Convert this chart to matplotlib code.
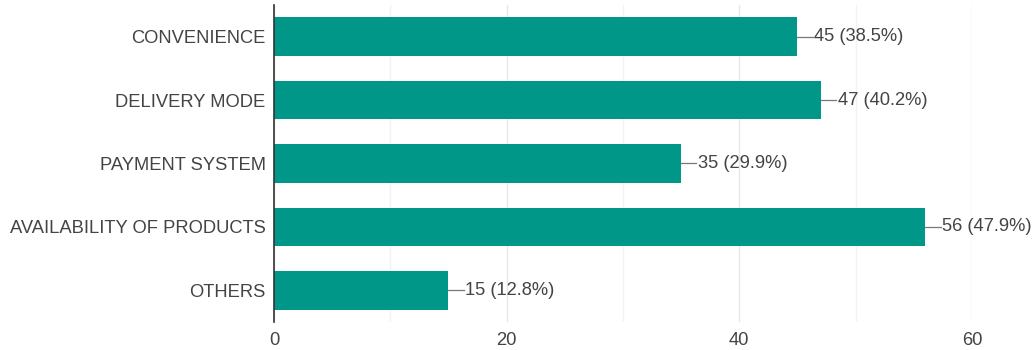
import matplotlib.pyplot as plt
from matplotlib.ticker import MultipleLocator

plt.rcParams['font.family'] = ['Liberation Sans', 'DejaVu Sans']

categories = ['CONVENIENCE', 'DELIVERY MODE', 'PAYMENT SYSTEM',
              'AVAILABILITY OF PRODUCTS', 'OTHERS']
counts = [45, 47, 35, 56, 15]
percents = [38.5, 40.2, 29.9, 47.9, 12.8]
xticks = [0, 20, 40, 60]

bar_color = '#009688'
text_color = '#444444'

fig = plt.figure(figsize=(10.34, 3.5), dpi=100)
ax = fig.add_axes([0.265, 0.08, 0.675, 0.906])

ypos = range(len(categories))
ax.barh(ypos, counts, height=0.61, color=bar_color, zorder=3)

# value labels with a short leader line
for y, c, p in zip(ypos, counts, percents):
    ax.plot([c, c + 1.3], [y, y], color='#777777', lw=0.9, zorder=3)
    ax.text(c + 1.45, y, f'{c} ({p}%)', va='center', ha='left',
            fontsize=13.2, color=text_color)

ax.set_xlim(0, 60)
ax.set_ylim(len(categories) - 0.5, -0.5)
ax.set_yticks(list(ypos))
ax.set_yticklabels(categories)
ax.set_xticks(xticks)
ax.xaxis.set_minor_locator(MultipleLocator(10))
ax.grid(axis='x', which='major', color='#e6e6e6', lw=1, zorder=0)
ax.grid(axis='x', which='minor', color='#f3f3f3', lw=1, zorder=0)

ax.tick_params(axis='both', length=0, labelsize=13.2, labelcolor=text_color)
ax.tick_params(axis='x', which='minor', length=0)
ax.tick_params(axis='y', pad=6)
ax.tick_params(axis='x', pad=7)
for s in ['top', 'right', 'bottom']:
    ax.spines[s].set_visible(False)
ax.spines['left'].set_color('#333333')
ax.spines['left'].set_linewidth(1.2)
ax.spines['left'].set_zorder(4)

fig.savefig('out.png', dpi=100)
